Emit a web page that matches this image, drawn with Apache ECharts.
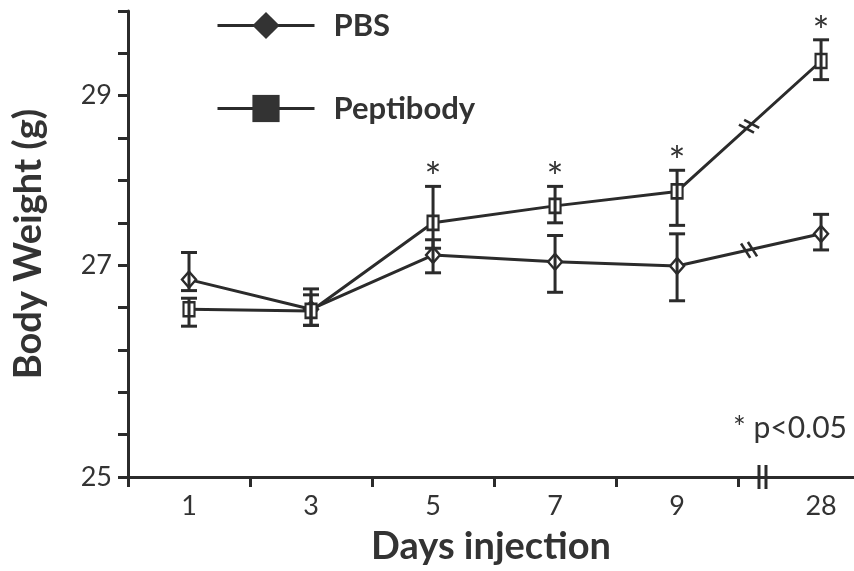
<!DOCTYPE html>
<html>
<head>
<meta charset="utf-8">
<script src="https://cdn.jsdelivr.net/npm/echarts@6/dist/echarts.min.js"></script>
<style>html,body{margin:0;padding:0;background:#fff}#c{width:854px;height:571px}</style>
</head>
<body>
<div id="c"></div>
<script>
// ---- data ----
const days = ['1', '3', '5', '7', '9', '28'];
const daySlots = [0.5, 1.5, 2.5, 3.5, 4.5, 5.68];   // position of each day on the broken axis
const pbsMean = [26.83, 26.48, 27.12, 27.04, 26.99, 27.37];
const pbsHigh = [27.15, 26.72, 27.30, 27.35, 27.37, 27.60];
const pbsLow  = [26.70, 26.29, 26.91, 26.68, 26.58, 27.18];
const pepMean = [26.48, 26.46, 27.50, 27.70, 27.87, 29.41];
const pepHigh = [26.61, 26.65, 27.93, 27.93, 28.12, 29.66];
const pepLow  = [26.28, 26.29, 27.20, 27.50, 27.47, 29.19];
const pepSig  = [0, 0, 1, 1, 1, 1];
const yTickValues = [24.5, 27, 29];
const yTickLabels = ['25', '27', '29'];
const axisBreakSlot = 5.2;

const FONT = 'Lato';
const INK = '#333';
const LINE = '#2b2b2b';

const chart = echarts.init(document.getElementById('c'));

const pbsLine = days.map((d, i) => [daySlots[i], pbsMean[i]]);
const pepLine = days.map((d, i) => [daySlots[i], pepMean[i]]);
const pbsErr = days.map((d, i) => [daySlots[i], pbsLow[i], pbsHigh[i], 0]);
const pepErr = days.map((d, i) => [daySlots[i], pepLow[i], pepHigh[i], pepSig[i]]);
const n = days.length;
const lineBreaks = [
  [daySlots[n - 2], pbsMean[n - 2], daySlots[n - 1], pbsMean[n - 1]],
  [daySlots[n - 2], pepMean[n - 2], daySlots[n - 1], pepMean[n - 1]]
];

function errRender(params, api) {
  const x = api.value(0), lo = api.value(1), hi = api.value(2), sig = api.value(3);
  const pLo = api.coord([x, lo]), pHi = api.coord([x, hi]);
  const w = 8;
  const style = { stroke: LINE, lineWidth: 3 };
  const ch = [
    { type: 'line', shape: { x1: pLo[0], y1: pLo[1], x2: pHi[0], y2: pHi[1] }, style },
    { type: 'line', shape: { x1: pLo[0] - w, y1: pLo[1], x2: pLo[0] + w, y2: pLo[1] }, style },
    { type: 'line', shape: { x1: pHi[0] - w, y1: pHi[1], x2: pHi[0] + w, y2: pHi[1] }, style }
  ];
  if (sig) {
    ch.push({ type: 'text', x: pHi[0], y: pHi[1] - 7,
      style: { text: '*', fill: INK, font: '40px ' + FONT, align: 'center', verticalAlign: 'middle' } });
  }
  return { type: 'group', children: ch };
}

function lineBreakRender(params, api) {
  const a = api.coord([api.value(0), api.value(1)]);
  const b = api.coord([api.value(2), api.value(3)]);
  const mx = (a[0] + b[0]) / 2, my = (a[1] + b[1]) / 2;
  let dx = b[0] - a[0], dy = b[1] - a[1];
  const len = Math.hypot(dx, dy); dx /= len; dy /= len;
  const ang = 70 * Math.PI / 180;
  const sx = dx * Math.cos(ang) - dy * Math.sin(ang);
  const sy = dx * Math.sin(ang) + dy * Math.cos(ang);
  const L = 8.5, g = 3.5;
  const style = { stroke: LINE, lineWidth: 2.6 };
  const ch = [-1, 1].map(k => {
    const cx = mx + k * g * dx, cy = my + k * g * dy;
    return { type: 'line', shape: { x1: cx - L * sx, y1: cy - L * sy, x2: cx + L * sx, y2: cy + L * sy }, style };
  });
  return { type: 'group', children: ch };
}

function axisBreakRender(params, api) {
  const p = api.coord([api.value(0), api.value(1)]);
  const style = { stroke: LINE, lineWidth: 3 };
  return { type: 'group', children: [-3.5, 3.5].map(o => ({
    type: 'line', shape: { x1: p[0] + o, y1: p[1] - 12, x2: p[0] + o, y2: p[1] + 12 }, style })) };
}

chart.setOption({
  animation: false,
  backgroundColor: '#fff',
  textStyle: { fontFamily: FONT },
  title: {
    text: '* p<0.05', right: 2, top: 408,
    textStyle: { fontFamily: FONT, fontSize: 30, fontWeight: 'normal', color: INK }
  },
  legend: {
    data: ['PBS', 'Peptibody'],
    orient: 'vertical', left: 211, top: 5,
    itemWidth: 97, itemHeight: 34, itemGap: 52,
    textStyle: { fontFamily: FONT, fontSize: 31, fontWeight: 'bold', color: INK, padding: [0, 0, 0, 14] },
    itemStyle: { color: INK, borderWidth: 0 },
    lineStyle: { color: LINE, width: 3 }
  },
  grid: { left: 128, right: 0, top: 11, bottom: 91, containLabel: false },
  xAxis: {
    type: 'value', min: 0, max: 5.95,
    name: 'Days injection', nameLocation: 'middle', nameGap: 51,
    nameTextStyle: { fontFamily: FONT, fontSize: 38, fontWeight: 'bold', color: INK },
    axisLine: { lineStyle: { color: LINE, width: 3 } },
    axisTick: { show: true, inside: false, length: 10, lineStyle: { color: LINE, width: 3 },
      customValues: [0, 1, 2, 3, 4, 5] },
    axisLabel: { customValues: daySlots, margin: 16, fontFamily: FONT, fontSize: 27, color: INK,
      formatter: v => { const i = daySlots.findIndex(s => Math.abs(s - v) < 1e-6); return i >= 0 ? days[i] : ''; } },
    splitLine: { show: false }
  },
  yAxis: {
    type: 'value', min: 24.5, max: 30, interval: 0.5,
    name: 'Body Weight (g)', nameLocation: 'middle', nameGap: 80, nameRotate: 90,
    nameTextStyle: { fontFamily: FONT, fontSize: 38, fontWeight: 'bold', color: INK },
    axisLine: { show: true, lineStyle: { color: LINE, width: 3 } },
    axisTick: { show: true, inside: false, length: 10, lineStyle: { color: LINE, width: 3 } },
    axisLabel: { customValues: yTickValues, margin: 16, fontFamily: FONT, fontSize: 27, color: INK,
      formatter: v => { const i = yTickValues.findIndex(s => Math.abs(s - v) < 1e-6); return i >= 0 ? yTickLabels[i] : ''; } },
    splitLine: { show: false }
  },
  series: [
    { name: 'PBS', type: 'line', data: pbsLine, z: 2,
      symbol: 'diamond', symbolSize: [14, 16],
      lineStyle: { color: LINE, width: 3 },
      itemStyle: { color: '#fff', borderColor: LINE, borderWidth: 2.4 } },
    { name: 'Peptibody', type: 'line', data: pepLine, z: 2,
      symbol: 'rect', symbolSize: [11, 14],
      lineStyle: { color: LINE, width: 3 },
      itemStyle: { color: '#fff', borderColor: LINE, borderWidth: 2.4 } },
    { type: 'custom', name: 'pbsErr', data: pbsErr, renderItem: errRender, z: 4,
      encode: { x: 0, y: [1, 2] }, silent: true },
    { type: 'custom', name: 'pepErr', data: pepErr, renderItem: errRender, z: 4,
      encode: { x: 0, y: [1, 2] }, silent: true },
    { type: 'custom', name: 'lineBreaks', data: lineBreaks, renderItem: lineBreakRender, z: 4,
      encode: { x: [0, 2], y: [1, 3] }, silent: true },
    { type: 'custom', name: 'axisBreak', data: [[axisBreakSlot, 24.5]], renderItem: axisBreakRender, z: 5,
      encode: { x: 0, y: 1 }, silent: true, clip: false }
  ]
});
</script>
</body>
</html>
